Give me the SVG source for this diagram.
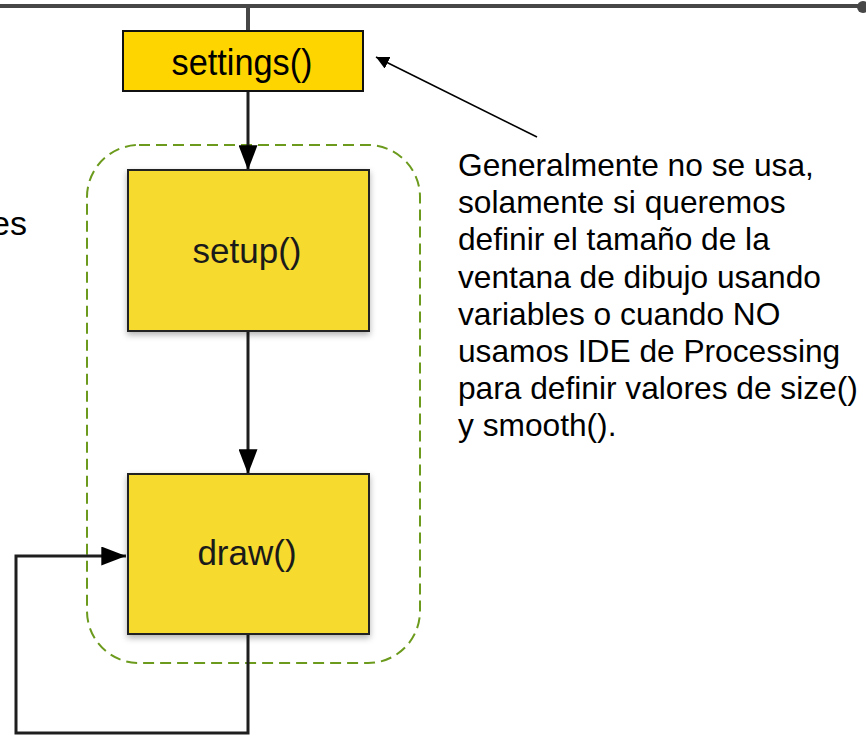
<svg xmlns="http://www.w3.org/2000/svg" width="866" height="736" viewBox="0 0 866 736">
  <defs>
    <style>
      .conn { stroke: #1e1e1e; stroke-width: 3; fill: none; }
      .box { fill: #f6da2e; stroke: #222; stroke-width: 2; }
      .lbl { font-family: "Liberation Sans", Arial, sans-serif; font-size: 35px; fill: #1a1a1a; text-anchor: middle; }
      .note { font-family: "Liberation Sans", Arial, sans-serif; font-size: 31.7px; fill: #000; }
      .rail { stroke: #474747; stroke-width: 4; fill: none; }
    </style>
    <marker id="tri" viewBox="0 0 13 10" refX="13" refY="5" markerWidth="25" markerHeight="19" markerUnits="userSpaceOnUse" orient="auto">
      <path d="M0,0 L13,5 L0,10 Z" fill="#000"/>
    </marker>
    <marker id="tri2" viewBox="0 0 10 10" refX="10" refY="5" markerWidth="13" markerHeight="13" markerUnits="userSpaceOnUse" orient="auto">
      <path d="M0,0 L10,5 L0,10 Z" fill="#000"/>
    </marker>
    <filter id="shadow" x="-10%" y="-10%" width="120%" height="125%">
      <feDropShadow dx="0" dy="3" stdDeviation="3" flood-color="#000" flood-opacity="0.3"/>
    </filter>
  </defs>

  <g id="rail">
    <line class="rail" x1="0" y1="6" x2="862" y2="6"/>
    <circle cx="863" cy="7" r="6" fill="#474747"/>
  </g>

  <g id="group-border">
    <rect x="87" y="145" width="333" height="518" rx="52" ry="52" fill="none" stroke="#6b9a1c" stroke-width="2" stroke-dasharray="11,6"/>
  </g>

  <g id="connectors">
    <line x1="248" y1="6" x2="248" y2="31" stroke="#474747" stroke-width="4"/>
    <line class="conn" x1="248" y1="91" x2="248" y2="170" marker-end="url(#tri)"/>
    <line class="conn" x1="248" y1="331" x2="248" y2="474" marker-end="url(#tri)"/>
    <polyline class="conn" points="248,634 248,733 16,733 16,556 126,556" marker-end="url(#tri)"/>
    <line x1="537" y1="137" x2="376" y2="57" stroke="#000" stroke-width="1.6" marker-end="url(#tri2)"/>
  </g>

  <g id="settings">
    <rect x="123" y="31" width="240" height="60" fill="#ffd500" stroke="#111" stroke-width="2"/>
    <text x="242" y="75" font-family="'Liberation Sans Narrow', 'Liberation Sans', Arial, sans-serif" font-size="37" fill="#000" text-anchor="middle" textLength="141" lengthAdjust="spacingAndGlyphs">settings()</text>
  </g>

  <g id="setup">
    <rect class="box" x="128" y="170" width="241" height="161" filter="url(#shadow)"/>
    <text class="lbl" x="247" y="263">setup()</text>
  </g>

  <g id="draw">
    <rect class="box" x="128" y="474" width="241" height="160" filter="url(#shadow)"/>
    <text class="lbl" x="247" y="565">draw()</text>
  </g>

  <g id="note">
    <text class="note" x="458" y="176">Generalmente no se usa,</text>
    <text class="note" x="458" y="213.2">solamente si queremos</text>
    <text class="note" x="458" y="250.4">definir el tamaño de la</text>
    <text class="note" x="458" y="287.6">ventana de dibujo usando</text>
    <text class="note" x="458" y="324.8">variables o cuando NO</text>
    <text class="note" x="458" y="362">usamos IDE de Processing</text>
    <text class="note" x="458" y="399.2">para definir valores de size()</text>
    <text class="note" x="458" y="436.4">y smooth().</text>
  </g>

  <g id="left-text">
    <text x="27" y="235" font-family="'Liberation Sans', Arial, sans-serif" font-size="34" fill="#000" text-anchor="end">es</text>
  </g>
</svg>
